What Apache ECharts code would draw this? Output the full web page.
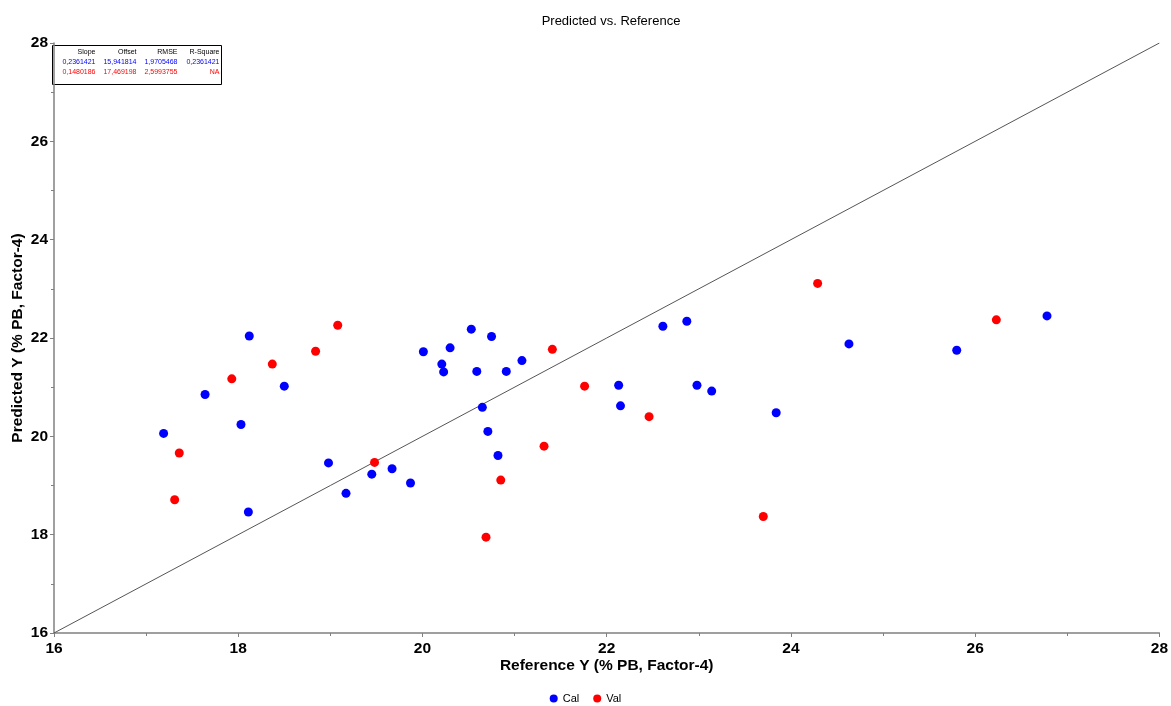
<!DOCTYPE html>
<html>
<head>
<meta charset="utf-8">
<title>Predicted vs. Reference</title>
<script src="https://cdn.jsdelivr.net/npm/echarts@6/dist/echarts.min.js"></script>
<style>
  html, body { margin: 0; padding: 0; background: #fff; }
  #chart { width: 1171px; height: 706px; }
</style>
</head>
<body>
<div id="chart"></div>
<script>
// calibration samples (reference, predicted)
var calRef  = [17.19, 18.12, 17.64, 18.03, 18.50, 18.11, 18.98, 19.17, 19.45, 19.67, 19.87,
               20.01, 20.30, 20.53, 20.75, 20.21, 20.23, 20.59, 20.91, 21.08, 20.65, 20.71,
               20.82, 22.61, 22.87, 22.13, 22.15, 22.98, 23.14, 23.84, 24.63, 25.80, 26.78];
var calPred = [20.06, 22.04, 20.85, 20.24, 21.02, 18.46, 19.46, 18.84, 19.23, 19.34, 19.05,
               21.72, 21.80, 22.18, 22.03, 21.47, 21.31, 21.32, 21.32, 21.54, 20.59, 20.10,
               19.61, 22.24, 22.34, 21.04, 20.62, 21.04, 20.92, 20.48, 21.88, 21.75, 22.45];
// validation samples
var valRef  = [19.08, 18.84, 18.37, 17.93, 17.36, 17.31, 19.48, 21.41, 21.76, 21.32, 20.85,
               20.69, 22.46, 24.29, 23.70, 26.23];
var valPred = [22.26, 21.73, 21.47, 21.17, 19.66, 18.71, 19.47, 21.77, 21.02, 19.80, 19.11,
               17.95, 20.40, 23.11, 18.37, 22.37];
// target line
var targetLine = [[16, 16], [28, 28]];

// stats table
var statHeaders = ['Slope', 'Offset', 'RMSE', 'R-Square'];
var calStats = ['0,2361421', '15,941814', '1,9705468', '0,2361421'];
var valStats = ['0,1480186', '17,469198', '2,5993755', 'NA'];

function pairs(xs, ys) {
  var res = [];
  for (var i = 0; i < xs.length; i++) res.push([xs[i], ys[i]]);
  return res;
}

// table graphic
var colRight = [43, 84, 125, 167];
var tableItems = [{
  type: 'rect', shape: { x: 0, y: 0, width: 169, height: 39 },
  style: { fill: '#fff', stroke: '#000', lineWidth: 1 }
}];
var rows = [[statHeaders, '#000'], [calStats, '#0000ff'], [valStats, '#ff0000']];
rows.forEach(function (r, ri) {
  r[0].forEach(function (t, ci) {
    tableItems.push({
      type: 'text', x: colRight[ci], y: 3 + ri * 10,
      style: { text: t, fill: r[1], font: '7px "Liberation Sans", Arial', textAlign: 'right', textVerticalAlign: 'top' }
    });
  });
});

var chart = echarts.init(document.getElementById('chart'));
var axisFont = { fontFamily: '"Liberation Sans", Arial', fontWeight: 'bold', fontSize: 15.5, color: '#000' };
chart.setOption({
  animation: false,
  title: {
    text: 'Predicted vs. Reference', left: 606, top: 10, textAlign: 'center',
    textStyle: { fontFamily: '"Liberation Sans", Arial', fontWeight: 'normal', fontSize: 13, color: '#000' }
  },
  grid: { left: 54, right: 11, top: 43, bottom: 73 },
  legend: {
    data: ['Cal', 'Val'], bottom: -3, left: 'center', icon: 'circle',
    itemWidth: 8, itemHeight: 8, itemGap: 14,
    textStyle: { fontFamily: '"Liberation Sans", Arial', fontSize: 11, color: '#000' }
  },
  xAxis: {
    type: 'value', min: 16, max: 28, interval: 2,
    name: 'Reference Y (% PB, Factor-4)', nameLocation: 'middle', nameGap: 25,
    nameMoveOverlap: false,
    nameTextStyle: axisFont,
    axisLine: { lineStyle: { color: '#808080', width: 1.5 } },
    axisTick: { show: true, length: 4, lineStyle: { color: '#808080' } },
    minorTick: { show: true, splitNumber: 2, length: 3, lineStyle: { color: '#808080' } },
    axisLabel: Object.assign({ margin: 8 }, axisFont),
    splitLine: { show: false }
  },
  yAxis: {
    type: 'value', min: 16, max: 28, interval: 2,
    name: 'Predicted Y (% PB, Factor-4)', nameLocation: 'middle', nameGap: 28,
    nameMoveOverlap: false,
    nameTextStyle: axisFont,
    axisLine: { show: true, lineStyle: { color: '#808080', width: 1.5 } },
    axisTick: { show: true, length: 4, lineStyle: { color: '#808080' } },
    minorTick: { show: true, splitNumber: 2, length: 3, lineStyle: { color: '#808080' } },
    axisLabel: Object.assign({ margin: 6 }, axisFont),
    splitLine: { show: false }
  },
  graphic: [{ type: 'group', left: 52, top: 45, children: tableItems }],
  series: [
    {
      name: 'Target', type: 'line', data: targetLine, symbol: 'none', silent: true,
      lineStyle: { color: '#555', width: 1 }, z: 1
    },
    {
      name: 'Cal', type: 'scatter', data: pairs(calRef, calPred), symbolSize: 9,
      itemStyle: { color: '#0000ff', opacity: 1 }, z: 3
    },
    {
      name: 'Val', type: 'scatter', data: pairs(valRef, valPred), symbolSize: 9,
      itemStyle: { color: '#ff0000', opacity: 1 }, z: 3
    }
  ]
});
</script>
</body>
</html>
